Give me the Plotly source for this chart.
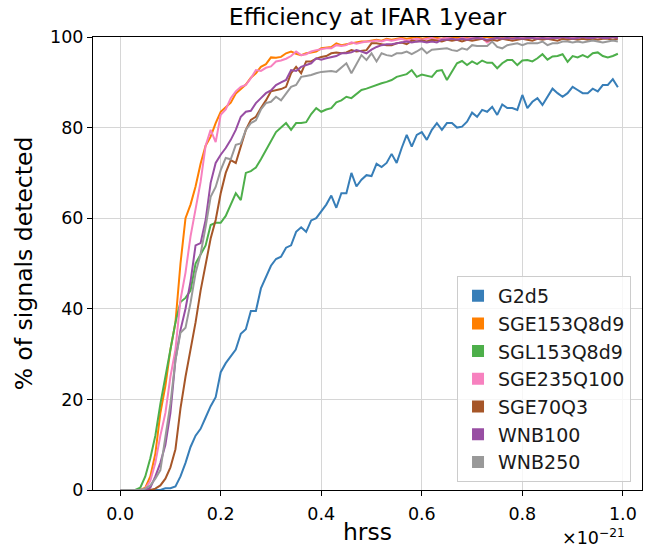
import plotly.graph_objects as go

hrss = [round(i * 0.01, 2) for i in range(100)]

G2d5 = [0, 0, 0, 0, 0, 0, 0, 0, 0, 0.4,
        0.4, 0.8, 3.0, 6.0, 9.5, 12.0, 13.5, 16.0, 18.5, 20.5,
        26.0, 28.0, 29.5, 31.0, 34.5, 35.5, 39.5, 39.5, 44.5, 47.0,
        49.5, 51.0, 51.5, 53.5, 54.0, 57.0, 58.0, 57.0, 59.5, 60.0,
        61.5, 63.0, 65.0, 62.3, 65.5, 65.5, 70.0, 67.0, 68.5, 69.5,
        69.3, 72.0, 71.3, 72.2, 74.2, 72.2, 75.5, 78.4, 75.8, 78.4,
        79.0, 77.3, 79.5, 81.0, 79.5, 81.0, 81.0, 80.0, 80.2, 81.3,
        83.3, 82.4, 83.9, 83.5, 84.6, 82.8, 85.1, 84.3, 84.3, 83.9,
        87.2, 84.3, 85.7, 86.5, 85.0, 86.8, 88.6, 87.6, 86.8, 87.6,
        89.0, 88.3, 87.6, 87.6, 88.6, 88.0, 89.4, 89.4, 90.7, 88.9]

SGE153Q8d9 = [0, 0, 0, 0, 0, 0.5, 3.0, 8.0, 17.0, 23.0,
              31.0, 37.0, 50.0, 60.0, 63.0, 67.0, 72.0, 76.0, 78.0, 81.0,
              83.5, 84.5, 85.5, 87.5, 88.5, 89.5, 91.0, 92.0, 93.4, 94.0,
              95.5, 95.4, 95.6, 96.4, 96.8, 96.3, 96.0, 96.4, 96.6, 96.8,
              97.5, 97.6, 97.8, 98.6, 98.2, 98.4, 98.6, 98.8, 99.0, 99.0,
              99.2, 99.4, 99.2, 99.6, 99.4, 99.6, 99.8, 99.6, 99.8, 100.0,
              99.6, 99.8, 100.0, 99.8, 99.6, 100.0, 100.0, 99.8, 100.0, 99.8,
              100.0, 99.8, 100.0, 100.0, 99.8, 100.0, 100.0, 99.8, 100.0, 100.0,
              100.0, 99.8, 100.0, 100.0, 100.0, 99.8, 100.0, 100.0, 100.0, 100.0,
              99.8, 100.0, 100.0, 100.0, 100.0, 100.0, 99.8, 100.0, 100.0, 100.0]

SGL153Q8d9 = [0, 0, 0, 0, 0.5, 3.0, 7.0, 12.0, 19.0, 25.0,
              31.0, 37.0, 41.5, 42.4, 44.0, 50.0, 52.0, 54.0, 58.5, 59.0,
              59.0, 60.5, 63.0, 65.5, 64.0, 70.0, 70.4, 71.2, 73.0, 75.0,
              77.0, 79.0, 80.0, 81.0, 79.5, 81.0, 81.0, 81.2, 83.0, 84.3,
              83.5, 84.0, 84.3, 85.6, 86.0, 86.8, 86.5, 87.5, 88.3, 88.6,
              89.0, 89.5, 89.8, 90.1, 90.5, 91.2, 91.5, 91.8, 92.7, 91.2,
              91.7, 91.4, 91.2, 92.5, 92.7, 90.5, 92.5, 94.2, 94.7, 93.8,
              94.6, 94.0, 94.8, 94.3, 94.3, 93.1, 94.2, 94.9, 94.9, 93.8,
              94.8, 94.9, 94.6, 95.3, 96.2, 95.0, 95.7, 95.8, 96.2, 94.5,
              95.8, 95.5, 96.0, 95.5, 96.4, 96.6, 95.8, 95.5, 95.8, 96.3]

SGE235Q100 = [0, 0, 0, 0, 0, 0.3, 2.0, 6.0, 12.0, 17.0,
              25.0, 31.0, 42.0, 48.0, 56.0, 62.0, 68.0, 76.0, 79.5, 76.8,
              82.8, 84.0, 86.5, 88.0, 89.0, 89.4, 90.9, 92.7, 92.5, 93.2,
              93.5, 94.6, 94.8, 95.2, 95.8, 96.8, 96.0, 96.2, 96.8, 97.1,
              97.3, 97.5, 97.5, 98.2, 98.0, 98.2, 98.8, 98.5, 98.8, 99.0,
              99.0, 99.2, 99.0, 99.4, 99.2, 99.4, 99.6, 99.2, 99.4, 99.6,
              99.4, 99.6, 99.8, 99.4, 99.6, 99.8, 99.6, 99.4, 99.8, 99.6,
              99.8, 99.6, 99.8, 98.8, 99.4, 99.8, 99.6, 99.8, 99.6, 99.8,
              99.8, 99.6, 99.8, 99.8, 99.6, 99.8, 100.0, 99.8, 99.6, 99.8,
              99.8, 100.0, 99.8, 99.6, 99.8, 100.0, 99.8, 99.8, 100.0, 99.8]

SGE70Q3 = [0, 0, 0, 0, 0, 0, 0, 0.3, 1.0, 2.5,
           5.0, 9.0, 18.0, 25.0, 31.0, 37.0, 44.0, 50.0, 55.5, 59.6,
           65.5, 70.0, 72.8, 72.2, 75.7, 79.5, 81.7, 82.4, 84.3, 86.0,
           88.0, 88.3, 88.5, 89.0, 92.0, 93.4, 92.0, 94.6, 94.6, 95.2,
           95.6, 95.8, 96.4, 96.6, 96.4, 96.6, 97.1, 96.8, 97.0, 97.1,
           98.6, 98.6, 98.4, 98.2, 98.2, 98.6, 98.8, 98.4, 99.2, 99.0,
           99.2, 99.0, 99.4, 99.2, 99.0, 99.4, 99.2, 99.4, 99.0, 99.4,
           99.2, 99.4, 99.6, 99.2, 99.4, 99.2, 99.6, 99.4, 99.2, 99.4,
           99.6, 99.4, 99.2, 99.6, 99.4, 99.6, 99.4, 99.2, 99.6, 99.4,
           99.6, 99.4, 99.6, 99.4, 99.6, 99.4, 99.6, 99.6, 99.4, 99.6]

WNB100 = [0, 0, 0, 0, 0, 0, 0.5, 3.0, 6.0, 10.0,
          17.0, 28.7, 35.3, 40.0, 46.0, 54.0, 54.5, 59.6, 67.8, 72.2,
          74.0, 75.5, 77.3, 79.5, 82.4, 83.5, 83.7, 85.4, 86.5, 87.6,
          88.2, 89.4, 90.0, 90.5, 92.7, 92.5, 93.4, 93.8, 94.2, 95.3,
          95.0, 95.3, 95.6, 95.8, 96.4, 96.4, 96.6, 97.1, 96.8, 96.4,
          97.2, 97.8, 98.2, 98.4, 98.4, 98.6, 98.8, 99.0, 98.8, 99.0,
          99.0, 98.8, 99.0, 98.8, 99.4, 99.4, 99.6, 99.4, 99.6, 99.4,
          99.6, 99.8, 99.6, 99.4, 99.6, 99.8, 99.6, 99.8, 99.6, 99.8,
          99.6, 99.8, 99.8, 99.6, 99.8, 99.6, 99.8, 99.8, 100.0, 99.8,
          99.6, 99.8, 100.0, 99.8, 99.8, 100.0, 99.8, 99.8, 100.0, 99.8]

WNB250 = [0, 0, 0, 0, 0, 0.3, 1.0, 2.5, 4.4, 11.7,
          19.0, 28.7, 34.7, 35.8, 41.3, 47.9, 52.1, 58.1, 64.7, 66.9,
          70.6, 73.3, 73.0, 76.2, 76.5, 79.5, 81.0, 81.6, 84.0, 85.4,
          85.7, 86.8, 86.0, 87.5, 89.0, 89.4, 91.2, 91.4, 91.6, 92.0,
          92.3, 92.4, 92.5, 92.3, 93.2, 94.2, 92.0, 94.0, 96.0, 94.9,
          96.4, 94.6, 96.4, 96.0, 95.8, 96.4, 96.4, 96.8, 96.2, 96.8,
          97.5, 96.4, 97.2, 97.3, 97.4, 97.5, 97.1, 96.9, 97.5, 97.2,
          98.2, 98.0, 98.0, 98.0, 99.0, 97.8, 97.5, 98.2, 98.4, 98.6,
          98.2, 98.6, 98.6, 98.6, 99.0, 98.2, 98.6, 98.6, 99.0, 99.0,
          98.8, 99.0, 98.8, 99.0, 99.2, 99.0, 98.8, 99.0, 99.2, 99.0]

names = ["G2d5", "SGE153Q8d9", "SGL153Q8d9", "SGE235Q100", "SGE70Q3", "WNB100", "WNB250"]
series = [G2d5, SGE153Q8d9, SGL153Q8d9, SGE235Q100, SGE70Q3, WNB100, WNB250]
colors = ["#377eb8", "#ff7f00", "#4daf4a", "#f781bf", "#a65628", "#984ea3", "#999999"]

FONT = "DejaVu Sans, Arial, sans-serif"

fig = go.Figure()
for name, vals, col in zip(names, series, colors):
    fig.add_trace(go.Scatter(
        x=hrss, y=vals, mode="lines", name=name, legendgroup=name,
        line=dict(color=col, width=2), showlegend=False,
    ))
# legend patches (matplotlib-style rectangles)
for name, col in zip(names, colors):
    fig.add_trace(go.Bar(
        x=[None], y=[None], name=name, legendgroup=name,
        marker=dict(color=col, line=dict(width=0)), showlegend=True,
    ))

axis_common = dict(
    showline=True, linecolor="black", linewidth=1, mirror=True,
    ticks="outside", ticklen=5, tickwidth=1, tickcolor="black",
    showgrid=True, gridcolor="#d6d6d6", gridwidth=1, zeroline=False,
    tickfont=dict(family=FONT, size=17.5, color="black"),
)

fig.update_layout(
    width=650, height=548,
    margin=dict(l=93, r=8, t=37, b=58),
    paper_bgcolor="white", plot_bgcolor="white",
    font=dict(family=FONT, color="black"),
    title=dict(text="Efficiency at IFAR 1year", x=0.5, xref="paper", xanchor="center",
               y=1 - 17 / 548, yref="container", yanchor="middle",
               font=dict(family=FONT, size=23.5, color="black")),
    xaxis=dict(range=[-0.054, 1.038], tickvals=[0, 0.2, 0.4, 0.6, 0.8, 1.0],
               ticktext=["0.0", "0.2", "0.4", "0.6", "0.8", "1.0"],
               ticklabelstandoff=3,
               title=dict(text="hrss", font=dict(family=FONT, size=23.5), standoff=0),
               **axis_common),
    yaxis=dict(range=[0, 100], tickvals=[0, 20, 40, 60, 80, 100],
               title=dict(text="% of signals detected", font=dict(family=FONT, size=23.5), standoff=10),
               **axis_common),
    legend=dict(x=0.98, y=0.018, xanchor="right", yanchor="bottom",
                bgcolor="rgba(255,255,255,0.8)", bordercolor="#cccccc", borderwidth=1,
                font=dict(family=FONT, size=19, color="#1a1a1a"),
                tracegroupgap=0, itemclick=False),
    showlegend=True,
    annotations=[dict(text="×10<sup>−21</sup>", xref="paper", yref="paper",
                      x=0.972, y=-0.103, xanchor="right", yanchor="middle", showarrow=False,
                      font=dict(family=FONT, size=17.5, color="black"))],
)

fig.write_html("out.html")
